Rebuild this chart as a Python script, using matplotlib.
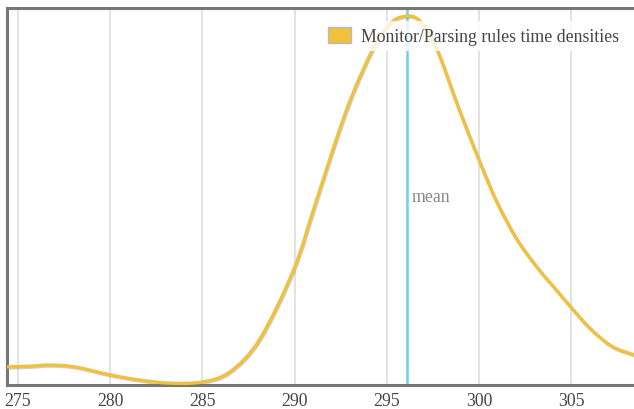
import numpy as np
import matplotlib.pyplot as plt
from matplotlib.path import Path
from matplotlib.patches import PathPatch
import matplotlib.patheffects as pe

# density estimate of rule timings (x: time, y: density)
times = [274.40, 275.65, 276.74, 278.09, 279.99, 281.62, 283.24, 284.98,
         286.50, 288.12, 289.97, 291.21, 292.84, 294.25, 295.17, 295.99,
         296.80, 297.72, 298.86, 300.05, 300.98, 302.06, 303.15, 303.96,
         304.99, 306.02, 307.21, 308.41]
density = [0.0048, 0.0050, 0.0053, 0.0048, 0.0027, 0.0013, 0.0005, 0.0008,
           0.0035, 0.0122, 0.0308, 0.0493, 0.0732, 0.0891, 0.0958, 0.0978,
           0.0966, 0.0891, 0.0740, 0.0592, 0.0485, 0.0387, 0.0313, 0.0266,
           0.0207, 0.0151, 0.0103, 0.0080]
mean_time = 296.08
xticks = [275, 280, 285, 290, 295, 300, 305]

YELLOW = "#efc13f"
GREY = "#777777"
SERIF = "Liberation Serif"
FS = 12.8


def smooth_path(xs, ys):
    """Catmull-Rom through the points, as cubic Bezier segments."""
    pts = np.column_stack([xs, ys])
    verts = [pts[0]]
    codes = [Path.MOVETO]
    n = len(pts)
    for i in range(n - 1):
        p0 = pts[max(i - 1, 0)]
        p1 = pts[i]
        p2 = pts[i + 1]
        p3 = pts[min(i + 2, n - 1)]
        c1 = p1 + (p2 - p0) / 6.0
        c2 = p2 - (p3 - p1) / 6.0
        verts += [c1, c2, p2]
        codes += [Path.CURVE4] * 3
    return Path(verts, codes)


fig = plt.figure(figsize=(6.34, 4.10), dpi=100)
ax = fig.add_axes([7 / 634, 24 / 410, 627 / 634, 377 / 410])

ax.set_xlim(274.40, 308.42)
ax.set_ylim(0, 0.1)

for t in xticks:
    ax.axvline(t, color="#dddddd", lw=1.2, zorder=0)

ax.axvline(mean_time, color="#6fcff5", lw=1.8, zorder=1)
ax.text(mean_time + 0.3, 0.0500, "mean", fontsize=FS, color="#888888",
        family=SERIF, va="center", ha="left")

curve = PathPatch(smooth_path(times, density), facecolor="none",
                  edgecolor=YELLOW, lw=2.4, zorder=3,
                  path_effects=[pe.SimpleLineShadow(offset=(0.6, -0.8),
                                                    shadow_color="#777777",
                                                    alpha=0.35),
                                pe.Normal()])
ax.add_patch(curve)

ax.set_xticks(xticks)
ax.set_xticklabels([str(t) for t in xticks], family=SERIF, fontsize=FS,
                   color="#444444")
ax.tick_params(axis="x", length=0, pad=5)
ax.set_yticks([])

for side in ["left", "top", "bottom"]:
    ax.spines[side].set_color(GREY)
    ax.spines[side].set_linewidth(2.2)
ax.spines["right"].set_visible(False)

handle = plt.Rectangle((0, 0), 1, 1, facecolor=YELLOW, edgecolor="#bbbbbb",
                       lw=1.0)
leg = ax.legend([handle], ["Monitor/Parsing rules time densities"],
                loc="upper right", bbox_to_anchor=(1.0, 0.99),
                frameon=True, fancybox=False, framealpha=0.8,
                edgecolor="none", handlelength=1.3, handleheight=1.0,
                handletextpad=0.55, borderpad=0.35,
                prop={"family": SERIF, "size": FS})
for txt in leg.get_texts():
    txt.set_color("#444444")

fig.savefig("out.png", dpi=100)
